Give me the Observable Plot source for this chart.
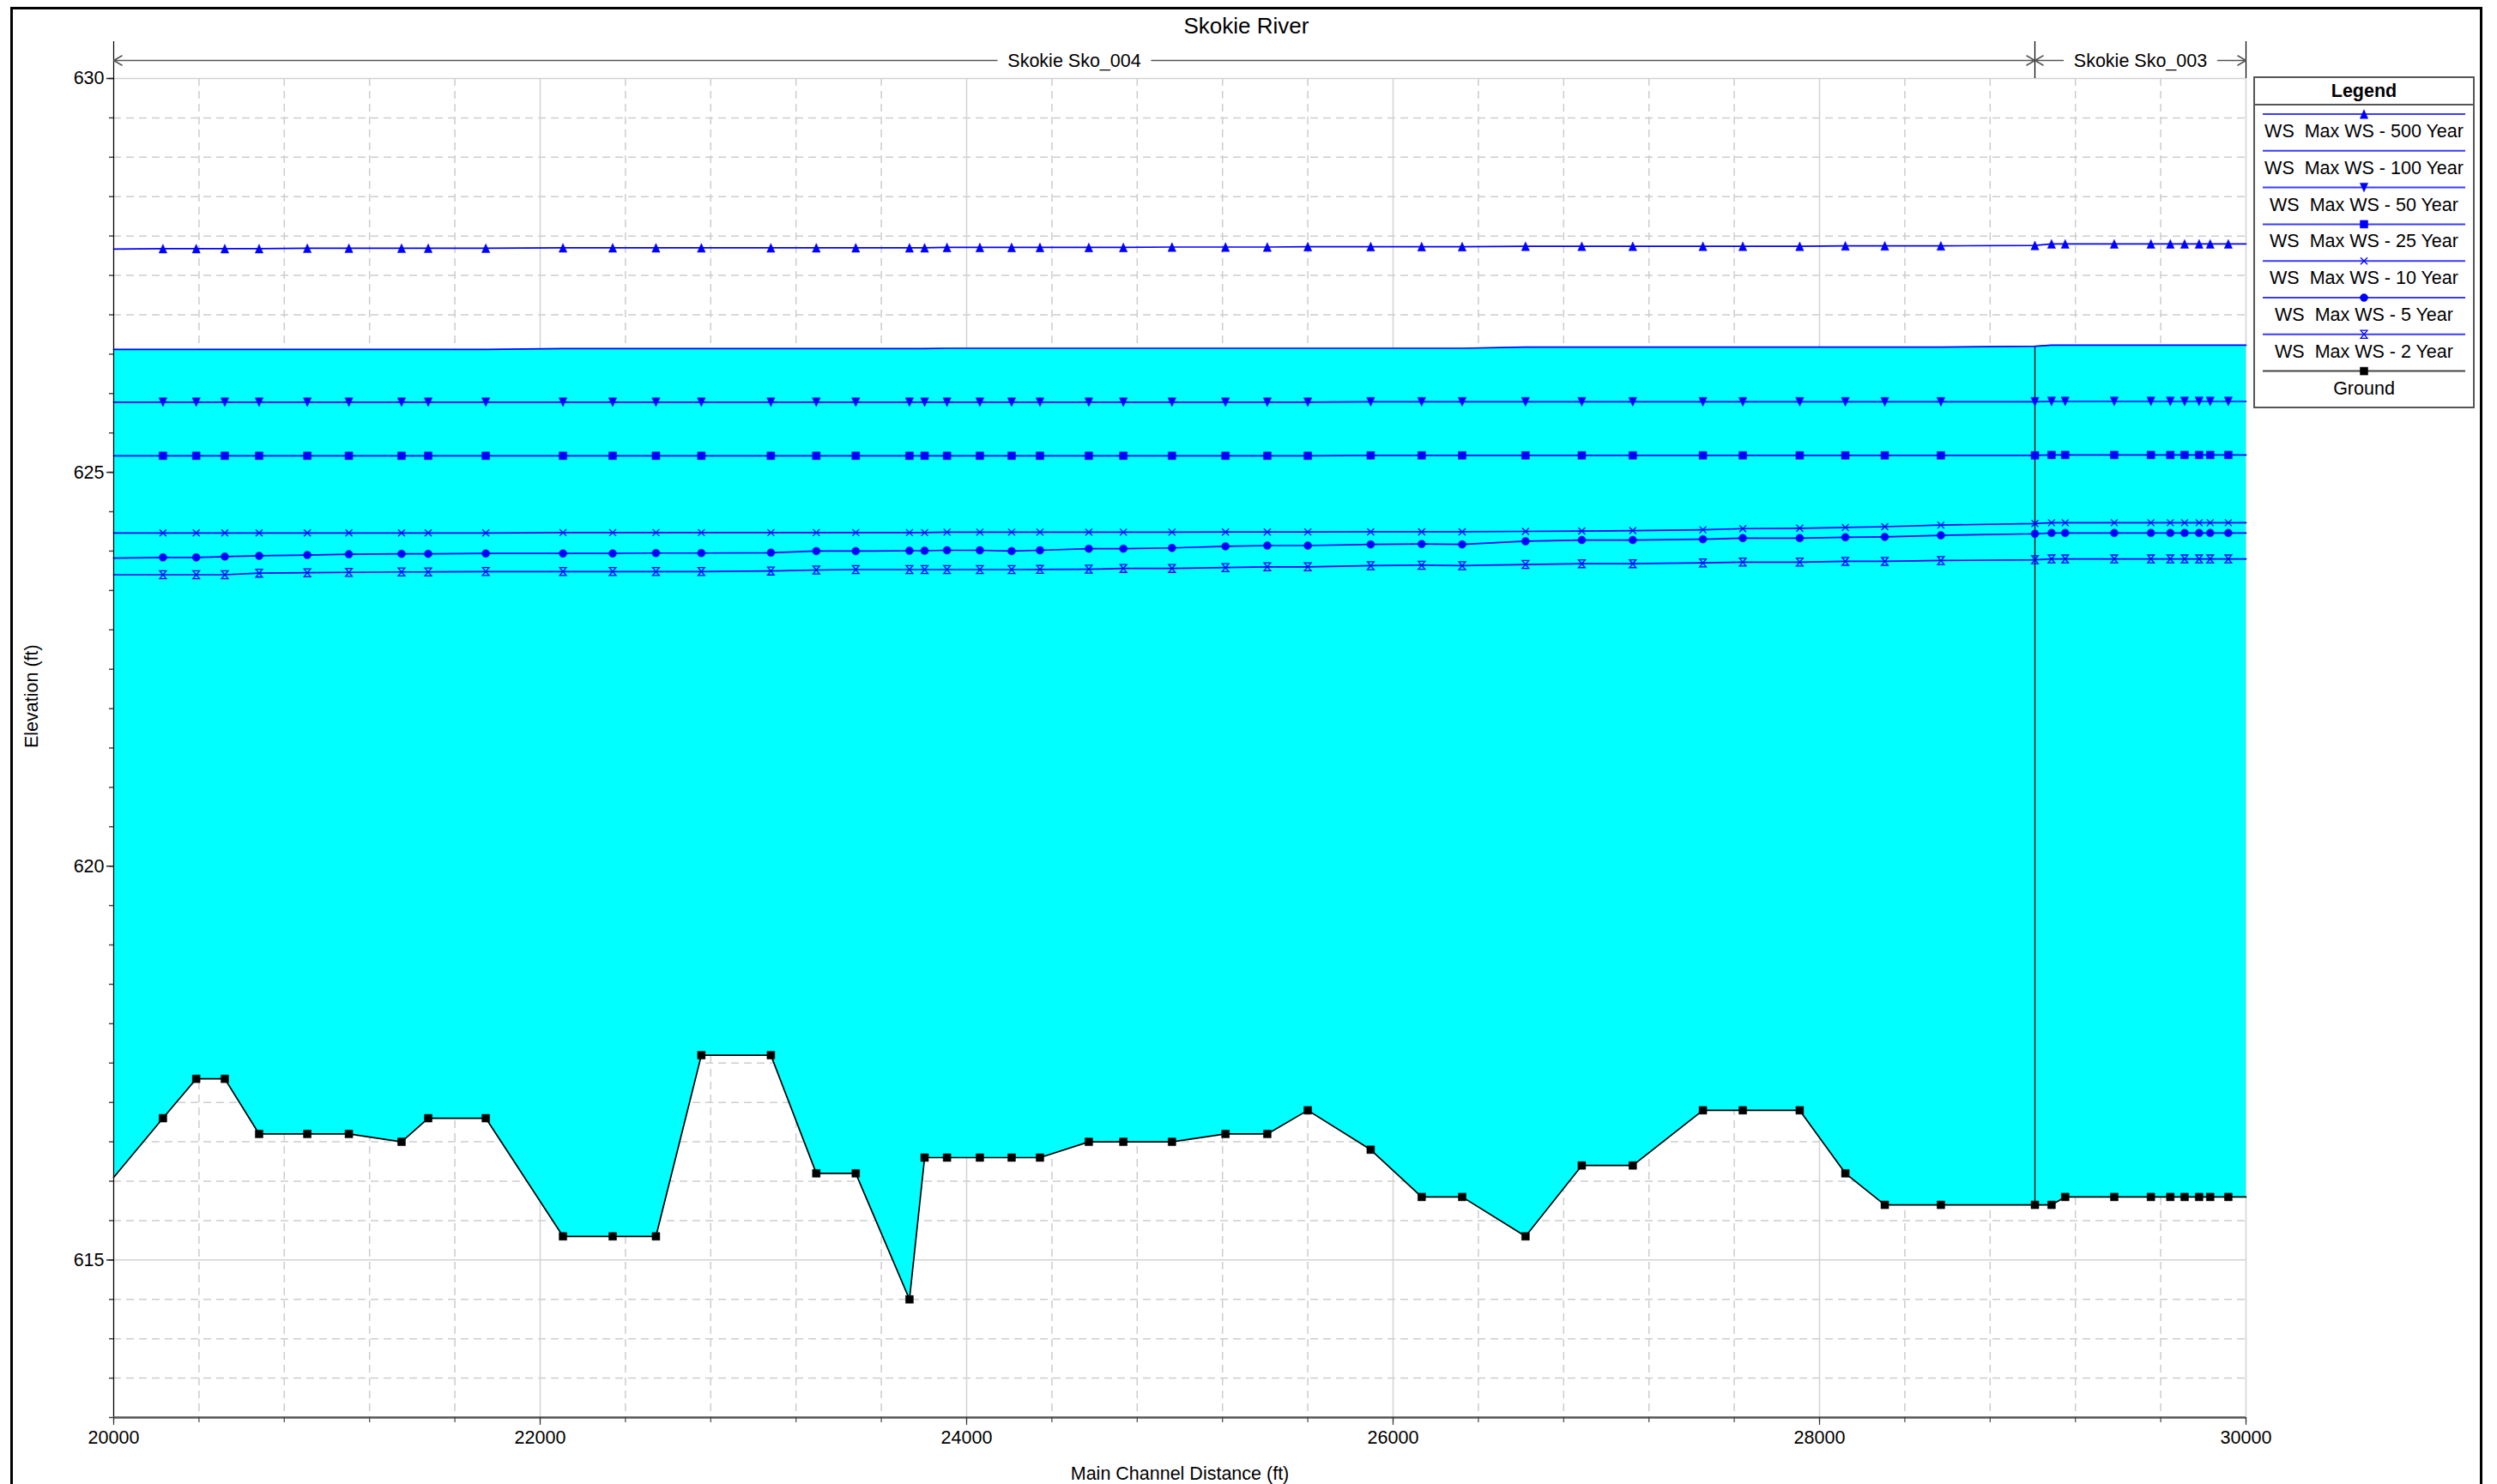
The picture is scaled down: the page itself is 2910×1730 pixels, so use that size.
<!DOCTYPE html>
<html><head><meta charset="utf-8">
<script src="https://cdn.jsdelivr.net/npm/d3@7"></script>
<script src="https://cdn.jsdelivr.net/npm/@observablehq/plot@0.6"></script>
<style>
html,body{margin:0;padding:0;background:#fff;}
#fig{position:relative;width:2910px;height:1730px;overflow:hidden;background:#fff;font-family:"Liberation Sans",Arial,sans-serif;}
#border{position:absolute;left:12px;top:8px;width:2875px;height:1800px;border:3px solid #000;}
#chart{position:absolute;left:0;top:0;}
#title{position:absolute;left:0;width:2905px;top:16px;line-height:28px;text-align:center;font-size:26px;color:#000;}
#legend{position:absolute;left:2626px;top:89px;}
</style></head><body>
<div id="fig"><div id="border"></div><div id="chart"></div><div id="title"></div><div id="legend"></div></div>
<script>
// ---------------- data ----------------
const title = "Skokie River";
const xLabel = "Main Channel Distance (ft)";
const yLabel = "Elevation (ft)";

// main channel distance of each cross section (first and last = plot edges)
const stations = [20000, 20231, 20387, 20521, 20682, 20908, 21103, 21350, 21475, 21745, 22107, 22340, 22543, 22756, 23082, 23295, 23480, 23732, 23803, 23908, 24062, 24211, 24344, 24573, 24735, 24963, 25214, 25410, 25600, 25895, 26134, 26324, 26621, 26885, 27124, 27453, 27640, 27907, 28121, 28306, 28569, 29010, 29088, 29152, 29382, 29554, 29645, 29712, 29780, 29832, 29917, 30000];

const ground = [616.05, 616.8, 617.3, 617.3, 616.6, 616.6, 616.6, 616.5, 616.8, 616.8, 615.3, 615.3, 615.3, 617.6, 617.6, 616.1, 616.1, 614.5, 616.3, 616.3, 616.3, 616.3, 616.3, 616.5, 616.5, 616.5, 616.6, 616.6, 616.9, 616.4, 615.8, 615.8, 615.3, 616.2, 616.2, 616.9, 616.9, 616.9, 616.1, 615.7, 615.7, 615.7, 615.7, 615.8, 615.8, 615.8, 615.8, 615.8, 615.8, 615.8, 615.8, 615.8];

const ws500 = [627.835, 627.84, 627.84, 627.84, 627.84, 627.845, 627.845, 627.845, 627.845, 627.845, 627.85, 627.85, 627.85, 627.85, 627.85, 627.85, 627.85, 627.85, 627.85, 627.855, 627.855, 627.855, 627.855, 627.855, 627.855, 627.86, 627.86, 627.86, 627.865, 627.865, 627.865, 627.865, 627.87, 627.87, 627.87, 627.87, 627.87, 627.87, 627.875, 627.875, 627.875, 627.88, 627.9, 627.9, 627.9, 627.9, 627.9, 627.9, 627.9, 627.9, 627.9, 627.9];

const ws100 = [626.56, 626.56, 626.56, 626.56, 626.56, 626.56, 626.56, 626.56, 626.56, 626.56, 626.57, 626.57, 626.57, 626.57, 626.57, 626.57, 626.57, 626.57, 626.57, 626.575, 626.575, 626.575, 626.575, 626.575, 626.575, 626.575, 626.575, 626.575, 626.575, 626.575, 626.575, 626.575, 626.59, 626.59, 626.59, 626.59, 626.59, 626.59, 626.59, 626.59, 626.59, 626.6, 626.615, 626.615, 626.615, 626.615, 626.615, 626.615, 626.615, 626.615, 626.615, 626.615];

const ws50 = [625.89, 625.89, 625.89, 625.89, 625.89, 625.89, 625.89, 625.89, 625.89, 625.89, 625.89, 625.89, 625.89, 625.89, 625.89, 625.89, 625.89, 625.89, 625.89, 625.89, 625.89, 625.89, 625.89, 625.89, 625.89, 625.89, 625.89, 625.89, 625.89, 625.895, 625.895, 625.895, 625.895, 625.895, 625.895, 625.895, 625.895, 625.895, 625.895, 625.895, 625.895, 625.895, 625.9, 625.9, 625.9, 625.9, 625.9, 625.9, 625.9, 625.9, 625.9, 625.9];

const ws25 = [625.21, 625.21, 625.21, 625.21, 625.21, 625.21, 625.21, 625.21, 625.21, 625.21, 625.21, 625.21, 625.21, 625.21, 625.21, 625.21, 625.21, 625.21, 625.21, 625.21, 625.21, 625.21, 625.21, 625.21, 625.21, 625.21, 625.21, 625.21, 625.21, 625.215, 625.215, 625.215, 625.215, 625.215, 625.215, 625.215, 625.215, 625.215, 625.215, 625.215, 625.215, 625.215, 625.22, 625.22, 625.22, 625.22, 625.22, 625.22, 625.22, 625.22, 625.22, 625.22];

const ws10 = [624.23, 624.23, 624.23, 624.23, 624.23, 624.23, 624.23, 624.23, 624.23, 624.23, 624.235, 624.235, 624.235, 624.235, 624.235, 624.235, 624.235, 624.235, 624.235, 624.24, 624.24, 624.24, 624.24, 624.24, 624.24, 624.24, 624.242, 624.242, 624.243, 624.245, 624.245, 624.245, 624.25, 624.255, 624.26, 624.27, 624.285, 624.29, 624.3, 624.31, 624.33, 624.35, 624.36, 624.36, 624.36, 624.36, 624.36, 624.36, 624.36, 624.36, 624.36, 624.36];

const ws5 = [623.91, 623.92, 623.92, 623.93, 623.94, 623.95, 623.96, 623.965, 623.965, 623.97, 623.97, 623.97, 623.975, 623.975, 623.98, 624.0, 624.0, 624.005, 624.005, 624.01, 624.01, 624.0, 624.01, 624.03, 624.03, 624.04, 624.06, 624.07, 624.07, 624.085, 624.09, 624.085, 624.125, 624.14, 624.14, 624.15, 624.165, 624.165, 624.175, 624.18, 624.2, 624.22, 624.23, 624.23, 624.23, 624.23, 624.23, 624.23, 624.23, 624.23, 624.23, 624.23];

const ws2 = [623.7, 623.7, 623.7, 623.7, 623.72, 623.725, 623.73, 623.735, 623.735, 623.74, 623.74, 623.74, 623.74, 623.74, 623.747, 623.76, 623.765, 623.765, 623.765, 623.765, 623.765, 623.765, 623.767, 623.77, 623.78, 623.78, 623.79, 623.8, 623.8, 623.815, 623.82, 623.815, 623.83, 623.84, 623.84, 623.85, 623.86, 623.86, 623.87, 623.87, 623.88, 623.89, 623.9, 623.9, 623.9, 623.9, 623.9, 623.9, 623.9, 623.9, 623.9, 623.9];

const profileNames = ["WS  Max WS - 500 Year", "WS  Max WS - 100 Year", "WS  Max WS - 50 Year", "WS  Max WS - 25 Year", "WS  Max WS - 10 Year", "WS  Max WS - 5 Year", "WS  Max WS - 2 Year"];
const profileValues = [ws500, ws100, ws50, ws25, ws10, ws5, ws2];
const groundName = "Ground";

const reachNames = ["Skokie Sko_004", "Skokie Sko_003"];
const reachStart = [20000, 29010];
const reachEnd = [29010, 30000];

const xDomain = [20000, 30000];
const yDomain = [613, 630];
const xMajorTicks = [20000, 22000, 24000, 26000, 28000, 30000];
const yMajorTicks = [615, 620, 625, 630];
const xMinorTicks = d3.range(20000, 30001, 400);
const yMinorTicks = d3.range(613, 630.001, 0.5);

// ---------------- symbols ----------------
const mk = (f) => ({draw(ctx, size) { f(ctx, Math.sqrt(size / Math.PI)); }});
const triUp = mk((c, r) => { c.moveTo(0, -r); c.lineTo(r * 0.9, r); c.lineTo(-r * 0.9, r); c.closePath(); });
const triDown = mk((c, r) => { c.moveTo(0, r); c.lineTo(r * 0.9, -r); c.lineTo(-r * 0.9, -r); c.closePath(); });
const sq = mk((c, r) => { c.moveTo(-r, -r); c.lineTo(r, -r); c.lineTo(r, r); c.lineTo(-r, r); c.closePath(); });
const circ = mk((c, r) => { c.moveTo(r, 0); c.arc(0, 0, r, 0, 2 * Math.PI); });
const times = mk((c, r) => { c.moveTo(-r, -r); c.lineTo(r, r); c.moveTo(r, -r); c.lineTo(-r, r); });
const hourglass = mk((c, r) => { c.moveTo(-r * 0.85, -r); c.lineTo(r * 0.85, -r); c.lineTo(-r * 0.85, r); c.lineTo(r * 0.85, r); c.closePath(); });

const BLUE = "#0000ff";
const profileStyle = [
  {symbol: triUp, r: 5.2, filled: true},
  null,
  {symbol: triDown, r: 5.2, filled: true},
  {symbol: sq, r: 4.5, filled: true},
  {symbol: times, r: 4, filled: false},
  {symbol: circ, r: 4.5, filled: true},
  {symbol: hourglass, r: 4.6, filled: false}
];

// ---------------- derived tables ----------------
const isSection = (i) => i > 0 && i < stations.length - 1;
const wsRows = profileNames.flatMap((name, k) => stations.map((s, i) => ({station: s, elev: profileValues[k][i], profile: name, k, i})));
const groundRows = stations.map((s, i) => ({station: s, elev: ground[i], top: ws100[i], i}));
const reaches = reachNames.map((name, j) => ({name, start: reachStart[j], end: reachEnd[j], mid: (reachStart[j] + reachEnd[j]) / 2}));
const reachBounds = Array.from(new Set([...reachStart, ...reachEnd]));
const junctions = groundRows.filter(d => reachStart.slice(1).includes(d.station));

const gridColor = "#cdcdcd";
const marks = [
  Plot.ruleY(yMinorTicks.filter(t => !yMajorTicks.includes(t) && t > yDomain[0]), {y: d => d, stroke: gridColor, strokeWidth: 1.5, strokeDasharray: "9,6"}),
  Plot.ruleX(xMinorTicks.filter(t => !xMajorTicks.includes(t)), {x: d => d, stroke: gridColor, strokeWidth: 1.5, strokeDasharray: "9,6"}),
  Plot.ruleY(yMajorTicks, {y: d => d, stroke: "#d2d2d2", strokeWidth: 1.5}),
  Plot.ruleX(xMajorTicks, {x: d => d, stroke: "#d2d2d2", strokeWidth: 1.5}),
  Plot.areaY(groundRows, {x: "station", y1: "elev", y2: "top", fill: "#00ffff", curve: "linear"}),
  Plot.ruleX(junctions, {x: "station", y1: "elev", y2: "top", stroke: "#000", strokeWidth: 1.3}),
  Plot.line(wsRows, {x: "station", y: "elev", z: "profile", stroke: BLUE, strokeWidth: 1.7}),
  ...profileStyle.map((st, k) => st == null ? null : Plot.dot(wsRows.filter(d => d.k === k && isSection(d.i)), {
    x: "station", y: "elev", symbol: st.symbol, r: st.r,
    fill: st.filled ? BLUE : "none", stroke: BLUE, strokeWidth: st.filled ? 0.5 : 1.3
  })).filter(Boolean),
  Plot.line(groundRows, {x: "station", y: "elev", stroke: "#000", strokeWidth: 1.7}),
  Plot.dot(groundRows.filter(d => isSection(d.i)), {x: "station", y: "elev", symbol: sq, r: 4.5, fill: "#000", stroke: "#000", strokeWidth: 0.5}),
  // axes
  Plot.ruleX([xDomain[0]], {x: d => d, stroke: "#000", strokeWidth: 1.2}),
  Plot.ruleY([yDomain[0]], {y: d => d, stroke: "#555", strokeWidth: 2.5}),
  Plot.axisY({ticks: yMinorTicks, tickSize: 5, tickFormat: () => "", stroke: "#444", strokeWidth: 1.5, label: null}),
  Plot.axisY({ticks: yMajorTicks, tickSize: 8, tickPadding: 3, fontSize: 21.5, stroke: "#222", strokeWidth: 1.5, label: null}),
  Plot.axisX({ticks: xMinorTicks, tickSize: 6, tickFormat: () => "", stroke: "#444", strokeWidth: 1.2, label: null}),
  Plot.axisX({ticks: xMajorTicks, tickSize: 9, tickPadding: 6, fontSize: 21.5, tickFormat: d3.format("d"), stroke: "#333", strokeWidth: 1.2, label: null}),
  Plot.text([xLabel], {frameAnchor: "bottom", dy: 66, text: d => d, fontSize: 21.5, lineAnchor: "middle"}),
  Plot.text([yLabel], {frameAnchor: "left", dx: -95, rotate: -90, text: d => d, fontSize: 21.5, lineAnchor: "middle"}),
  // reach annotation
  Plot.ruleX(reachBounds, {x: d => d, y1: yDomain[1], y2: yDomain[1], insetTop: -43, stroke: "#000", strokeWidth: 1.2}),
  Plot.arrow(reaches, {x1: "mid", x2: "start", y1: yDomain[1], y2: yDomain[1], dy: -21, insetStart: 90, bend: 0, headLength: 11, headAngle: 60, stroke: "#555", strokeWidth: 1.5}),
  Plot.arrow(reaches, {x1: "mid", x2: "end", y1: yDomain[1], y2: yDomain[1], dy: -21, insetStart: 90, bend: 0, headLength: 11, headAngle: 60, stroke: "#555", strokeWidth: 1.5}),
  Plot.text(reaches, {x: "mid", y: yDomain[1], dy: -20, text: "name", fontSize: 21.5, lineAnchor: "middle"})
];

const chart = Plot.plot({
  width: 2910, height: 1730,
  marginLeft: 132, marginRight: 293, marginTop: 91, marginBottom: 78,
  x: {domain: xDomain},
  y: {domain: yDomain},
  style: {fontFamily: '"Liberation Sans", Arial, sans-serif', fontSize: "21px", background: "transparent", color: "#000", overflow: "visible"},
  marks
});
document.getElementById("chart").appendChild(chart);
document.getElementById("title").textContent = title;

// ---------------- legend ----------------
const legendEntries = profileNames.map((name, k) => ({name, style: profileStyle[k], color: "#3a3aff", mcolor: BLUE}))
  .concat([{name: groundName, style: {symbol: sq, r: 4.5, filled: true}, color: "#444", mcolor: "#000"}]);
const LW = 258, LH = 387, rowH = 42.8;
const L = d3.select("#legend").append("svg").attr("width", LW).attr("height", LH)
  .style("font-family", '"Liberation Sans", Arial, sans-serif');
L.append("rect").attr("x", 1).attr("y", 1).attr("width", LW - 2).attr("height", LH - 2)
  .attr("fill", "#fff").attr("stroke", "#555").attr("stroke-width", 2);
L.append("line").attr("x1", 1).attr("x2", LW - 1).attr("y1", 33).attr("y2", 33).attr("stroke", "#555").attr("stroke-width", 2);
L.append("text").attr("x", LW / 2).attr("y", 17).attr("text-anchor", "middle").attr("dominant-baseline", "central")
  .attr("font-size", 21.5).attr("font-weight", "bold").text("Legend");
legendEntries.forEach((e, j) => {
  const ly = 44 + rowH * j, ty = 64 + rowH * j;
  L.append("line").attr("x1", 11).attr("x2", LW - 11).attr("y1", ly).attr("y2", ly).attr("stroke", e.color).attr("stroke-width", 2);
  if (e.style) {
    L.append("path").attr("transform", `translate(${LW / 2},${ly})`)
      .attr("d", d3.symbol(e.style.symbol, Math.PI * e.style.r * e.style.r)())
      .attr("fill", e.style.filled ? e.mcolor : "none").attr("stroke", e.mcolor).attr("stroke-width", e.style.filled ? 0.5 : 1.3);
  }
  L.append("text").attr("x", LW / 2).attr("y", ty).attr("text-anchor", "middle").attr("dominant-baseline", "central")
    .attr("font-size", 21.5).style("white-space", "pre").attr("xml:space", "preserve").text(e.name);
});
</script></body></html>
